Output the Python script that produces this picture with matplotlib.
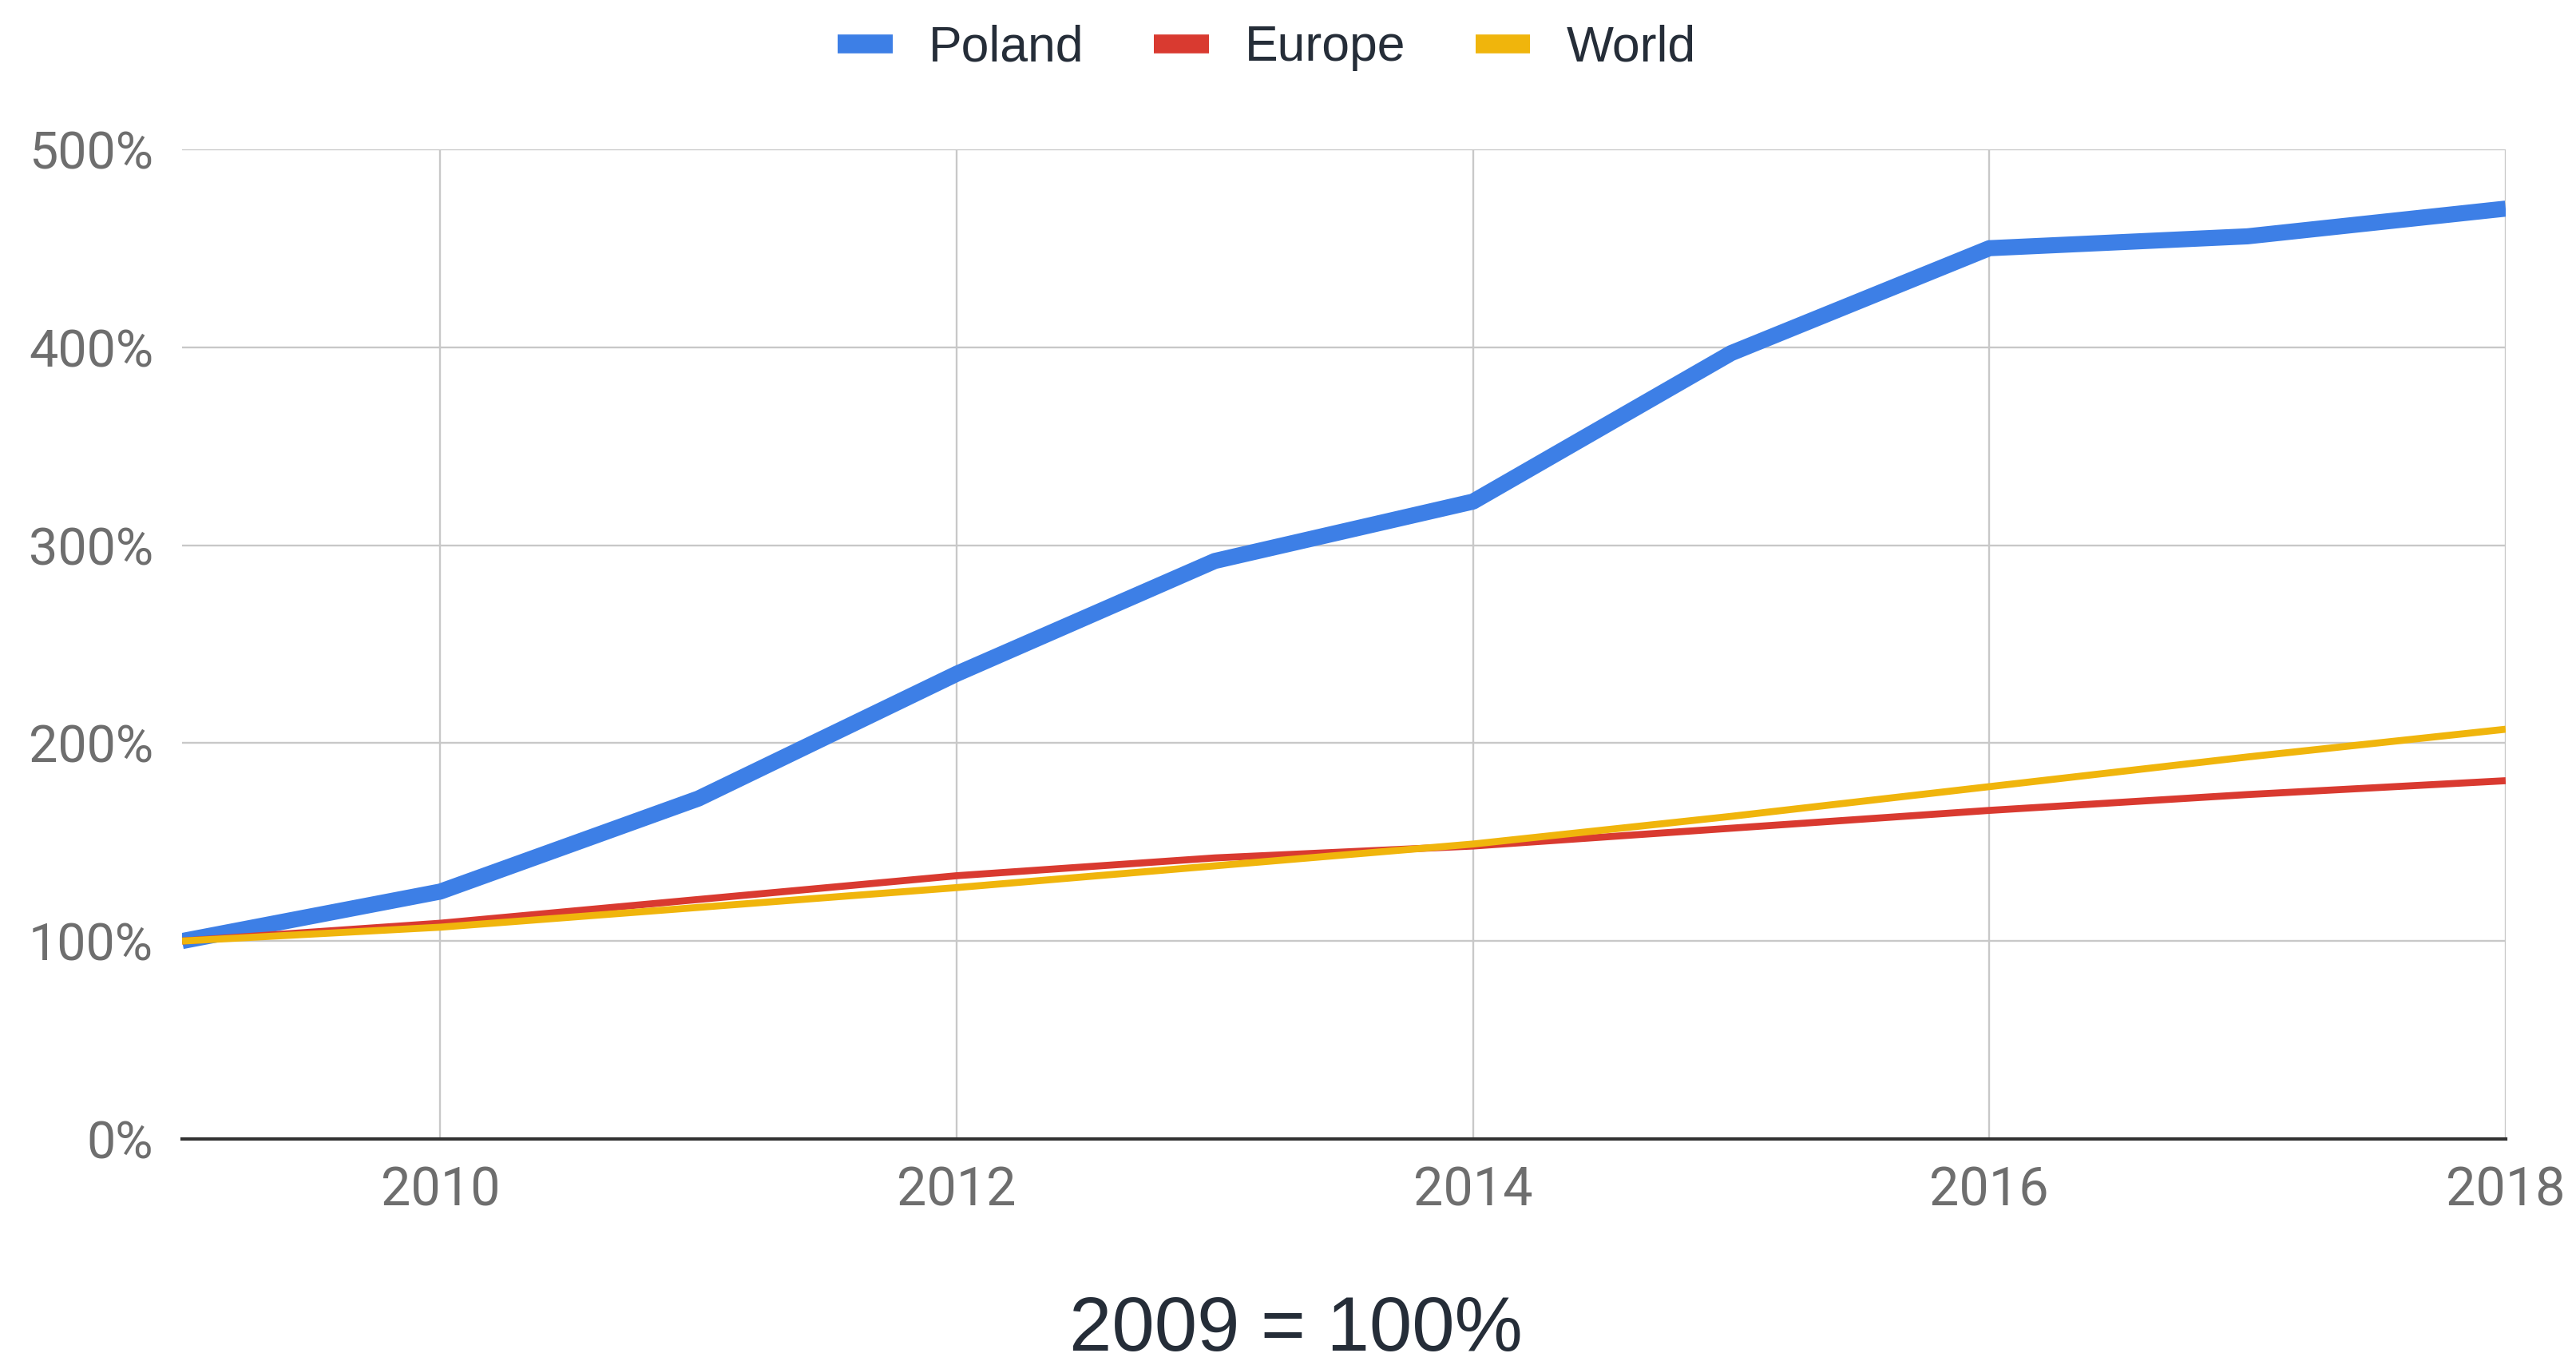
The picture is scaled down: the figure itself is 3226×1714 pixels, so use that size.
import numpy as np
import matplotlib.pyplot as plt
from matplotlib.lines import Line2D

# Index of growth, 2009 = 100%
years = [2009, 2010, 2011, 2012, 2013, 2014, 2015, 2016, 2017, 2018]
poland = [100, 125, 172, 235, 292, 322, 397, 450, 456, 470]
europe = [100, 109, 121, 133, 142, 148, 157, 166, 174, 181]
world = [100, 107, 117, 127, 138, 149, 163, 178, 193, 207]

series_names = ['Poland', 'Europe', 'World']
series_colors = ['#3d7fe6', '#d93a30', '#f0b50c']

x_ticks = [2010, 2012, 2014, 2016, 2018]
y_ticks = [0, 100, 200, 300, 400, 500]

fig = plt.figure(figsize=(32.26, 17.14), dpi=100)
ax = fig.add_axes([0.0707, 0.168, 0.902, 0.723])

ax.plot(years, poland, color=series_colors[0], lw=14.5,
        solid_joinstyle='round', solid_capstyle='butt', zorder=3)
ax.plot(years, europe, color=series_colors[1], lw=6.3,
        solid_joinstyle='round', solid_capstyle='butt', zorder=4)
ax.plot(years, world, color=series_colors[2], lw=6.3,
        solid_joinstyle='round', solid_capstyle='butt', zorder=5)

ax.set_xlim(2009, 2018)
ax.set_ylim(0, 500)
ax.set_xticks(x_ticks)
ax.set_yticks(y_ticks)
ax.set_xticklabels([str(t) for t in x_ticks])
ax.set_yticklabels([f'{t}%' for t in y_ticks])
ax.grid(True, color='#c8c8c8', lw=1.7, zorder=0)
ax.set_axisbelow(True)

for side in ['top', 'right', 'left']:
    ax.spines[side].set_visible(False)
ax.spines['bottom'].set_color('#333333')
ax.spines['bottom'].set_linewidth(3)
ax.spines['bottom'].set_zorder(6)

ax.tick_params(axis='both', length=0, labelcolor='#6e6e6e')
ax.tick_params(axis='x', pad=24, labelsize=48)
ax.tick_params(axis='y', pad=26, labelsize=46.5)
for lbl in ax.get_xticklabels() + ax.get_yticklabels():
    lbl.set_fontfamily('Roboto')

# legend across the top
handles = [Line2D([0], [0], color=c, lw=17, solid_capstyle='butt')
           for c in series_colors]
leg = fig.legend(handles, series_names, loc='center', ncol=3,
                 bbox_to_anchor=(0.4917, 0.965), frameon=False,
                 handlelength=1.1, handletextpad=0.72, columnspacing=1.4,
                 prop={'family': 'Liberation Sans', 'size': 45})
for t in leg.get_texts():
    t.set_color('#252d38')

fig.text(0.503, 0.0135, '2009 = 100%', ha='center', va='baseline',
         fontsize=69, family='Liberation Sans', color='#252d38')

fig.savefig('out.png', dpi=100, facecolor='white')
